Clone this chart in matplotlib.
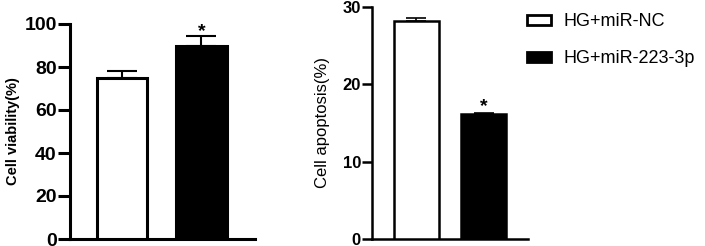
import matplotlib.pyplot as plt
from matplotlib.patches import Patch

plt.rcParams['font.family'] = ['Liberation Sans', 'DejaVu Sans']

groups = ['HG+miR-NC', 'HG+miR-223-3p']
viability = [75, 90]
viability_err = [3.2, 4.2]
apoptosis = [28.2, 16.1]
apoptosis_err = [0.35, 0.2]
colors = ['white', 'black']

fig = plt.figure(figsize=(7.05, 2.46), dpi=100)
W, H = 705, 246

# Left panel: cell viability
ax1 = fig.add_axes([70 / W, 7 / H, 185 / W, 215 / H])
ax1.bar([0, 1], viability, width=0.63, color=colors, edgecolor='black', linewidth=2.2, zorder=3)
ax1.errorbar([0, 1], viability, yerr=[[0, 0], viability_err], fmt='none',
             ecolor='black', elinewidth=1.5, capsize=11, capthick=1.5, zorder=2)
ax1.text(1, viability[1] + viability_err[1] - 1.5, '*', ha='center', va='bottom',
         fontsize=14, fontweight='bold')
ax1.set_xlim(-0.654, 1.673)
ax1.set_ylim(0, 100)
ax1.set_yticks([0, 20, 40, 60, 80, 100])
ax1.set_xticks([])
ax1.set_ylabel('Cell viability(%)', fontsize=10.5, fontweight='bold', labelpad=3)

# Right panel: cell apoptosis
ax2 = fig.add_axes([372 / W, 7 / H, 156 / W, 232 / H])
ax2.bar([0, 1], apoptosis, width=0.66, color=colors, edgecolor='black', linewidth=1.8, zorder=3)
ax2.errorbar([0, 1], apoptosis, yerr=[[0, 0], apoptosis_err], fmt='none',
             ecolor='black', elinewidth=1.2, capsize=7, capthick=1.2, zorder=2)
ax2.text(1, apoptosis[1] + apoptosis_err[1] - 0.3, '*', ha='center', va='bottom',
         fontsize=14, fontweight='bold')
ax2.set_xlim(-0.664, 1.664)
ax2.set_ylim(0, 30)
ax2.set_yticks([0, 10, 20, 30])
ax2.set_xticks([])
ax2.set_ylabel('Cell apoptosis(%)', fontsize=12, labelpad=9)

for ax, lw, tl, fs in [(ax1, 2.2, 8.5, 14), (ax2, 1.8, 7, 12)]:
    ax.spines['top'].set_visible(False)
    ax.spines['right'].set_visible(False)
    ax.spines['left'].set_linewidth(lw)
    ax.spines['bottom'].set_linewidth(lw)
    ax.tick_params(axis='y', length=tl, width=lw, labelsize=fs, pad=1)
    for lab in ax.get_yticklabels():
        lab.set_fontweight('bold')

handles = [Patch(facecolor=c, edgecolor='black', linewidth=2) for c in colors]
fig.legend(handles, groups, loc='upper left', bbox_to_anchor=(520 / W, 1 - 6 / H),
           frameon=False, fontsize=13, handlelength=1.3, handleheight=0.5,
           handletextpad=0.7, labelspacing=1.1, borderaxespad=0)

fig.savefig('out.png', dpi=100)
